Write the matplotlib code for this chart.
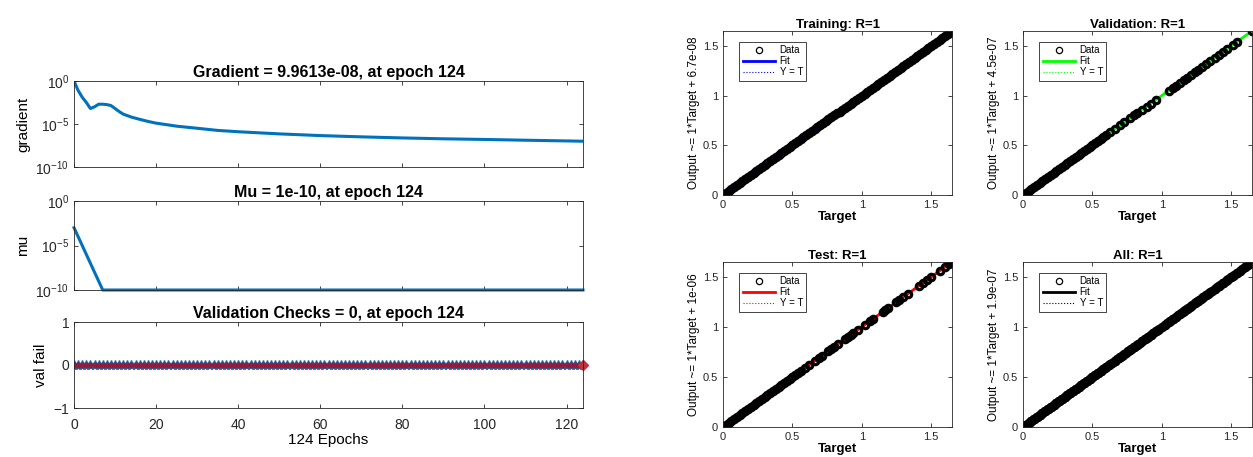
# coding: utf-8
# Training record (gradient / mu / val fail) and regression plots, MATLAB nntool style
import matplotlib
matplotlib.use("Agg")
import matplotlib.pyplot as plt

plt.rcParams['font.family'] = ['Liberation Sans', 'DejaVu Sans']

#***data: training state
grad_epoch = [0, 1, 2, 3, 4, 5, 6, 7, 8, 9, 10, 11, 12, 14, 16, 18, 20, 25, 30,
              35, 40, 50, 60, 70, 80, 90, 100, 110, 124]
grad_value = [1.0, 8e-2, 1.3e-2, 3.2e-3, 6.3e-4, 1.0e-3, 2.0e-3, 2.0e-3, 1.8e-3,
              1.4e-3, 6.3e-4, 2.8e-4, 1.4e-4, 6.3e-5, 3.5e-5, 2.0e-5, 1.26e-5,
              5.6e-6, 3.2e-6, 1.8e-6, 1.26e-6, 7.1e-7, 4.5e-7, 3.2e-7, 2.4e-7,
              1.9e-7, 1.6e-7, 1.3e-7, 9.9613e-8]
mu_epoch = [0, 1, 2, 3, 4, 5, 6, 7, 124]
mu_value = [1e-3, 1e-4, 1e-5, 1e-6, 1e-7, 1e-8, 1e-9, 1e-10, 1e-10]
val_epoch = list(range(125))
val_fail = [0] * 125

#***data: regression targets (outputs equal targets, R=1)
train_target = [0.00, 0.02, 0.04, 0.06, 0.08, 0.10, 0.12, 0.14, 0.16, 0.18, 0.20,
                0.22, 0.24, 0.26, 0.28, 0.30, 0.32, 0.34, 0.36, 0.38, 0.40, 0.42,
                0.44, 0.46, 0.48, 0.50, 0.52, 0.54, 0.56, 0.58, 0.60, 0.62, 0.64,
                0.66, 0.68, 0.70, 0.72, 0.74, 0.76, 0.78, 0.80, 0.82, 0.84, 0.86,
                0.88, 0.90, 0.92, 0.94, 0.96, 0.98, 1.00, 1.02, 1.04, 1.06, 1.08,
                1.10, 1.12, 1.14, 1.16, 1.18, 1.20, 1.22, 1.24, 1.26, 1.28, 1.30,
                1.32, 1.34, 1.36, 1.38, 1.40, 1.42, 1.44, 1.46, 1.48, 1.50, 1.52,
                1.54, 1.56, 1.58, 1.60, 1.62, 1.64]
val_target = [0.00, 0.02, 0.04, 0.06, 0.08, 0.10, 0.12, 0.14, 0.16, 0.18, 0.20,
              0.22, 0.24, 0.26, 0.28, 0.30, 0.32, 0.34, 0.36, 0.38, 0.40, 0.42,
              0.44, 0.46, 0.48, 0.50, 0.52, 0.54, 0.56, 0.58, 0.60, 0.63, 0.66,
              0.70, 0.73, 0.77, 0.80, 0.82, 0.86, 0.89, 0.92, 0.96, 1.05, 1.08,
              1.10, 1.13, 1.16, 1.18, 1.21, 1.24, 1.26, 1.29, 1.32, 1.35, 1.38,
              1.41, 1.44, 1.47, 1.51, 1.54, 1.65]
test_target = [0.00, 0.02, 0.04, 0.06, 0.08, 0.10, 0.12, 0.14, 0.16, 0.18, 0.20,
               0.22, 0.24, 0.26, 0.28, 0.30, 0.32, 0.34, 0.36, 0.38, 0.40, 0.42,
               0.44, 0.46, 0.48, 0.50, 0.52, 0.54, 0.56, 0.59, 0.62, 0.66, 0.69,
               0.71, 0.76, 0.78, 0.80, 0.83, 0.88, 0.90, 0.92, 0.94, 0.97, 1.02,
               1.06, 1.08, 1.15, 1.17, 1.19, 1.25, 1.27, 1.30, 1.33, 1.41, 1.44,
               1.47, 1.50, 1.56, 1.60, 1.63, 1.65]
all_target = train_target + val_target + test_target

reg_panels = [
    ('Training: R=1', train_target, '6.7e-08', 6.7e-08, '#0000ff'),
    ('Validation: R=1', val_target, '4.5e-07', 4.5e-07, '#00ff00'),
    ('Test: R=1', test_target, '1e-06', 1e-06, '#ff0000'),
    ('All: R=1', all_target, '1.9e-07', 1.9e-07, '#000000'),
]

W, H = 1253, 457
fig = plt.figure(figsize=(W / 100.0, H / 100.0), dpi=100)
AXC = '#262626'
LINEC = '#0072BD'


def frac(left, top, right, bottom):
    # pixel box -> figure fraction
    return [left / W, 1 - bottom / H, (right - left) / W, (bottom - top) / H]


def style(ax, fs, pad=3.5):
    for s in ax.spines.values():
        s.set_color(AXC)
        s.set_linewidth(0.6)
    ax.tick_params(direction='in', top=True, right=True, length=3, width=0.6,
                   colors=AXC, labelsize=fs, pad=pad)


#***left: training state
ax_g = fig.add_axes(frac(74, 81, 583, 167))
ax_m = fig.add_axes(frac(74, 201, 583, 290))
ax_v = fig.add_axes(frac(74, 322, 583, 408))

ax_g.semilogy(grad_epoch, grad_value, color=LINEC, lw=2.2)
ax_g.set_title('Gradient = 9.9613e-08, at epoch 124', fontsize=11.5,
               fontweight='bold', pad=3)
ax_g.set_ylabel('gradient', fontsize=11)

ax_m.semilogy(mu_epoch, mu_value, color=LINEC, lw=2.2, clip_on=False)
ax_m.set_title('Mu = 1e-10, at epoch 124', fontsize=11.5, fontweight='bold', pad=3)
ax_m.set_ylabel('mu', fontsize=11)

for ax in (ax_g, ax_m):
    ax.set_ylim(1e-10, 1)
    ax.set_yticks([1e-10, 1e-5, 1e0])
    ax.minorticks_off()

ax_v.plot(val_epoch, val_fail, color=LINEC, lw=1, marker='*', ms=7, mew=1)
ax_v.plot(val_epoch, val_fail, ls='none', marker='D', ms=3, color='#A2142F',
          alpha=0.8)
ax_v.plot(val_epoch[-1:], val_fail[-1:], ls='none', marker='D', ms=5,
          color='#C0303A', clip_on=False)
ax_v.set_ylim(-1, 1)
ax_v.set_yticks([-1, 0, 1])
ax_v.set_title('Validation Checks = 0, at epoch 124', fontsize=11.5,
               fontweight='bold', pad=3)
ax_v.set_ylabel('val fail', fontsize=11)
ax_v.set_xlabel('124 Epochs', fontsize=11, labelpad=1)

for ax in (ax_g, ax_m, ax_v):
    ax.set_xlim(0, 124)
    ax.set_xticks([0, 20, 40, 60, 80, 100, 120])
    style(ax, 10)
ax_v.tick_params(axis='x', pad=7)
ax_g.set_xticklabels([])
ax_m.set_xticklabels([])

#***right: regression plots
boxes = [(723, 31, 952, 195), (1023, 31, 1252, 195),
         (723, 262, 952, 427), (1023, 262, 1252, 427)]
for (title, target, btxt, b, col), box in zip(reg_panels, boxes):
    ax = fig.add_axes(frac(*box))
    lo, hi = min(target), max(target)
    ax.plot([lo, hi], [lo + b, hi + b], color=col, lw=2, label='Fit')
    ax.plot([0, 1.65], [0, 1.65], color=col, lw=0.8, ls=':', label='Y = T')
    ax.plot(target, [t + b for t in target], ls='none', marker='o', ms=4.6,
            mfc='none', mec='k', mew=2.3, label='Data')
    ax.set_xlim(0, 1.65)
    ax.set_ylim(0, 1.65)
    ax.set_xticks([0, 0.5, 1, 1.5])
    ax.set_yticks([0, 0.5, 1, 1.5])
    ax.set_xticklabels(['0', '0.5', '1', '1.5'])
    ax.set_yticklabels(['0', '0.5', '1', '1.5'])
    style(ax, 8)
    ax.set_title(title, fontsize=9.5, fontweight='bold', pad=2)
    ax.set_xlabel('Target', fontsize=9.5, fontweight='bold', labelpad=1)
    ax.set_ylabel('Output ~= 1*Target + ' + btxt, fontsize=8.5, labelpad=2)
    h, l = ax.get_legend_handles_labels()
    leg = ax.legend([h[2], h[0], h[1]], [l[2], l[0], l[1]], loc='upper left',
                    fontsize=7, handlelength=3.3, borderpad=0.35, labelspacing=0.12,
                    handletextpad=0.5, fancybox=False, framealpha=1,
                    bbox_to_anchor=(0.05, 0.965))
    leg.get_frame().set_edgecolor(AXC)
    leg.get_frame().set_linewidth(0.6)
    leg.legend_handles[0].set_markeredgewidth(0.9)
    leg.legend_handles[0].set_markersize(4.5)

fig.savefig('out.png', dpi=100)
